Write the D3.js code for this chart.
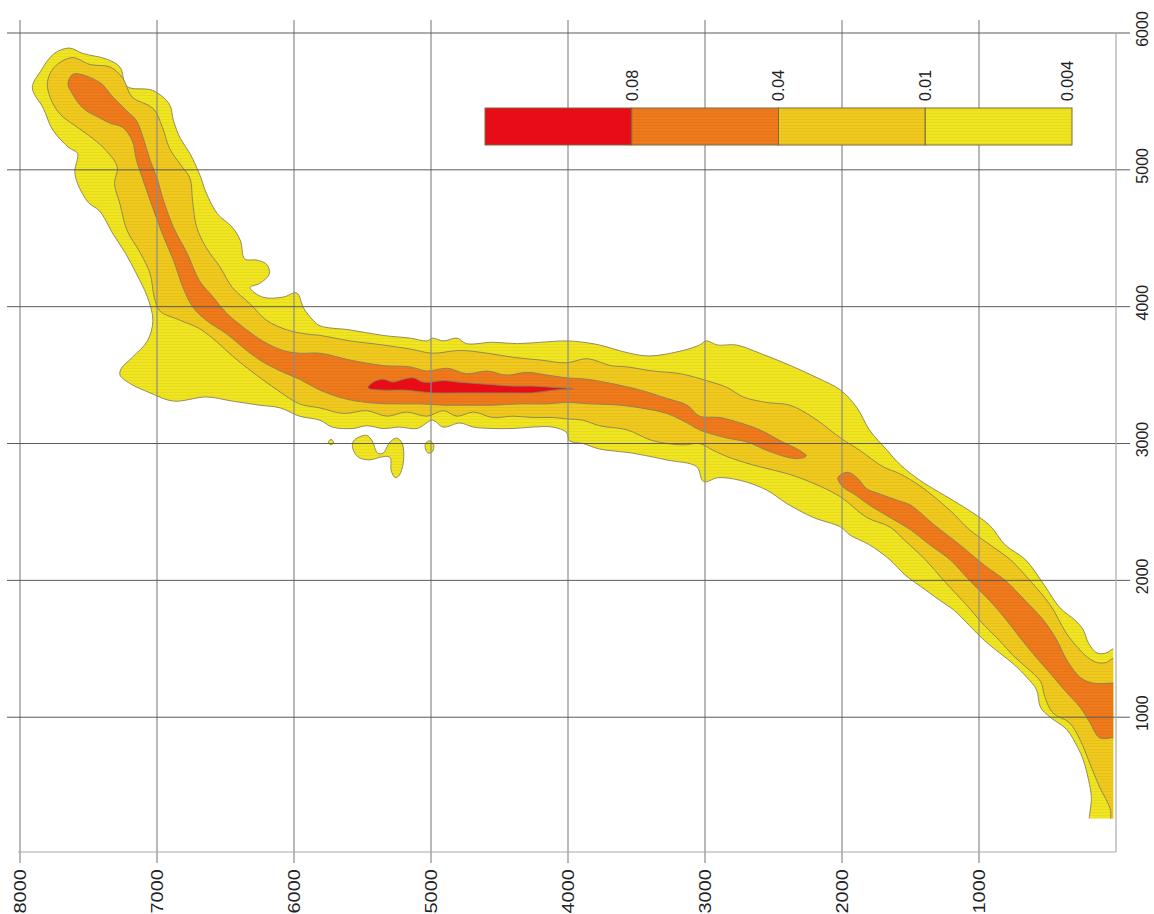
<!DOCTYPE html>
<html><head><meta charset="utf-8">
<script src="https://cdn.jsdelivr.net/npm/d3@7"></script>
<style>body{margin:0;background:#fff}svg{display:block}text{font-family:"Liberation Sans",Arial,sans-serif}</style>
</head><body><svg id="c" width="1154" height="914"></svg>
<script>
// ---- data ----
const xTicks = [8000,7000,6000,5000,4000,3000,2000,1000];
const yTicks = [6000,5000,4000,3000,2000,1000];
const legendLabels = ["0.08","0.04","0.01","0.004"];
const dataClip = {x0:20, x1:8000, y0:260, y1:6000};

// outer contour 0.004
const c004_main = [
[7640,5890],[7540,5850],[7370,5810],[7270,5750],[7220,5610],[7030,5580],[6910,5480],[6880,5360],[6830,5230],[6760,5120],
[6690,4970],[6640,4830],[6560,4680],[6450,4580],[6390,4480],[6360,4350],[6270,4340],[6200,4310],[6180,4240],[6250,4170],
[6320,4140],[6230,4070],[6080,4070],[5980,4100],[5930,3990],[5860,3900],[5810,3860],[5590,3830],[5350,3790],[5150,3770],
[5030,3750],[4990,3770],[4910,3750],[4810,3770],[4740,3730],[4550,3740],[4370,3730],[4200,3740],[4010,3750],[3890,3740],
[3770,3720],[3550,3660],[3400,3640],[3160,3680],[3040,3720],[2990,3750],[2910,3720],[2770,3720],[2600,3660],[2400,3580],
[2180,3480],[2010,3390],[1890,3260],[1800,3100],[1670,2950],[1580,2850],[1430,2730],[1250,2620],[1070,2510],[920,2400],
[810,2260],[660,2150],[520,1960],[410,1800],[300,1710],[240,1640],[200,1540],[140,1470],[70,1470],[20,1500],
[-60,1500],[-60,150],[180,150],
[180,420],[200,540],[240,690],[280,780],[360,910],[480,1000],[550,1070],[580,1200],[650,1290],[750,1390],
[850,1470],[960,1560],[1070,1670],[1180,1780],[1280,1850],[1390,1930],[1540,2040],[1650,2150],[1800,2260],[1940,2330],
[2010,2390],[2210,2460],[2400,2560],[2550,2660],[2740,2730],[2910,2750],[2990,2720],[3020,2730],[3060,2830],[3280,2880],
[3530,2930],[3770,2960],[3890,3000],[3990,3020],[4010,3080],[4110,3120],[4260,3120],[4400,3110],[4550,3110],[4690,3120],
[4790,3150],[4910,3120],[4990,3170],[5100,3110],[5230,3120],[5350,3110],[5470,3130],[5570,3110],[5720,3120],[5810,3170],
[5960,3200],[6100,3260],[6250,3280],[6450,3310],[6640,3340],[6880,3310],[7050,3370],[7200,3440],[7270,3500],[7260,3550],
[7180,3630],[7070,3750],[7030,3900],[7070,4070],[7150,4240],[7230,4390],[7320,4530],[7420,4700],[7500,4760],[7580,4900],
[7600,4990],[7580,5120],[7640,5160],[7760,5290],[7830,5450],[7910,5600],[7850,5720],[7750,5850]
];
const c004_blob = [
[5540,3040],[5470,3060],[5430,3020],[5390,2930],[5350,2930],[5300,3010],[5250,3040],[5210,3000],[5200,2880],[5230,2770],
[5260,2750],[5290,2800],[5300,2900],[5370,2900],[5450,2880],[5530,2900],[5570,2960],[5570,3010]
];
const c004_drop = [[5010,3020],[4980,2990],[4990,2940],[5020,2930],[5040,2960],[5040,3000]];
const c004_dot = [[5730,3030],[5750,3010],[5730,2990],[5710,3010]];

// contour 0.01
const c01 = [
[7620,5820],[7490,5770],[7340,5750],[7250,5670],[7180,5530],[7030,5450],[6960,5310],[6910,5160],[6830,5040],[6760,4940],
[6740,4770],[6710,4580],[6640,4430],[6540,4290],[6450,4140],[6320,4020],[6200,3900],[6050,3830],[5910,3800],[5810,3790],
[5590,3750],[5350,3720],[5150,3690],[4990,3660],[4790,3680],[4590,3660],[4400,3630],[4200,3610],[4010,3590],[3860,3620],
[3690,3570],[3570,3560],[3380,3530],[3180,3510],[2990,3460],[2840,3410],[2720,3340],[2550,3300],[2380,3280],[2210,3190],
[2010,3040],[1870,2950],[1700,2830],[1580,2780],[1430,2690],[1210,2510],[1070,2370],[920,2260],[770,2150],[630,2000],
[480,1820],[360,1610],[280,1510],[210,1440],[140,1400],[70,1400],[20,1430],
[-60,1430],[-60,150],[40,150],
[40,320],[120,490],[190,660],[260,830],[340,960],[460,1030],[520,1150],[550,1260],[650,1360],[750,1450],
[850,1560],[960,1670],[1100,1830],[1250,1990],[1390,2150],[1540,2290],[1650,2390],[1820,2460],[2010,2610],[2210,2710],
[2400,2780],[2600,2830],[2800,2890],[2940,2950],[3040,3000],[3160,2990],[3380,3020],[3570,3100],[3770,3130],[3890,3170],
[4010,3180],[4110,3190],[4260,3190],[4400,3200],[4550,3190],[4690,3230],[4810,3200],[4910,3240],[5030,3200],[5180,3230],
[5320,3200],[5470,3240],[5640,3220],[5810,3260],[5960,3290],[6120,3390],[6300,3520],[6450,3640],[6560,3740],[6690,3840],
[6830,3900],[6980,3970],[7020,4070],[7050,4240],[7120,4390],[7220,4560],[7270,4750],[7310,4900],[7290,5020],[7370,5140],
[7470,5230],[7580,5310],[7710,5410],[7780,5530],[7800,5640],[7750,5750]
];

// contour 0.04 (two parts)
const c04_a = [
[7610,5700],[7420,5640],[7320,5530],[7220,5430],[7150,5360],[7100,5230],[7050,5070],[7000,4940],[6960,4800],[6880,4580],
[6780,4390],[6690,4190],[6590,4070],[6490,3950],[6370,3850],[6230,3750],[6080,3680],[5960,3660],[5810,3660],[5590,3610],
[5350,3570],[5150,3560],[5030,3530],[4880,3550],[4740,3510],[4590,3530],[4450,3500],[4300,3520],[4150,3500],[4010,3480],
[3860,3470],[3690,3440],[3470,3390],[3280,3330],[3130,3280],[3040,3200],[2890,3190],[2740,3150],[2600,3100],[2450,3020],
[2310,2950],[2260,2910],
[2310,2890],[2400,2900],[2550,2950],[2690,3010],[2840,3040],[3040,3100],[3130,3150],[3280,3220],[3470,3260],[3620,3280],
[3840,3290],[4010,3300],[4150,3290],[4350,3290],[4550,3280],[4740,3280],[4910,3280],[5080,3290],[5280,3290],[5470,3300],
[5640,3330],[5810,3390],[5960,3470],[6100,3530],[6250,3610],[6370,3700],[6490,3800],[6640,3900],[6740,4000],[6810,4140],
[6880,4340],[6960,4530],[7030,4720],[7100,4920],[7150,5070],[7180,5210],[7250,5310],[7340,5340],[7420,5380],[7540,5450],
[7620,5560],[7650,5630]
];
const c04_b = [
[2030,2750],[1960,2790],[1890,2750],[1820,2670],[1720,2630],[1580,2580],[1500,2550],[1320,2400],[1140,2260],[960,2110],
[810,2000],[660,1850],[530,1710],[430,1560],[360,1420],[260,1290],[170,1250],[20,1250],
[-60,1250],[-60,850],
[20,850],[120,850],[190,960],[260,1070],[360,1180],[480,1320],[610,1470],[700,1580],[800,1710],[920,1850],
[1070,2000],[1210,2150],[1360,2260],[1500,2370],[1650,2460],[1800,2550],[1910,2630],[1990,2680]
];

// contour 0.08
const c08 = [
[5460,3410],[5420,3450],[5350,3470],[5280,3450],[5200,3470],[5130,3480],[5060,3450],[4990,3450],[4910,3460],[4810,3450],
[4690,3440],[4550,3430],[4400,3420],[4260,3420],[4110,3410],[3960,3400],
[4110,3390],[4260,3370],[4400,3370],[4590,3370],[4790,3370],[4990,3370],[5180,3390],[5350,3390],[5450,3400]
];

// ---- drawing ----
const svg = d3.select("#c");
const x = d3.scaleLinear().domain([8000, 0]).range([20, 1116]);
const y = d3.scaleLinear().domain([15, 6000]).range([852, 33]);

const defs = svg.append("defs");
defs.append("clipPath").attr("id","dclip").append("rect")
  .attr("x", x(dataClip.x1)).attr("y", y(dataClip.y1))
  .attr("width", x(dataClip.x0) - x(dataClip.x1))
  .attr("height", y(dataClip.y0) - y(dataClip.y1));

// fine stipple texture
function pat(id, base, dark){
  const p = defs.append("pattern").attr("id", id).attr("patternUnits","userSpaceOnUse")
    .attr("width", 3).attr("height", 3);
  p.append("rect").attr("width",3).attr("height",3).attr("fill", base);
  p.append("rect").attr("x",0).attr("y",2).attr("width",3).attr("height",1).attr("fill", dark).attr("opacity",0.35);
  return `url(#${id})`;
}
const colYellow = pat("pY", "#efe520", "#d9c81a");
const colDYellow = pat("pD", "#f0c91f", "#d9ae18");
const colOrange = pat("pO", "#ee7a1b", "#d96a15");
const colRed = "#e80c16";

const line = d3.line().x(d => x(d[0])).y(d => y(d[1])).curve(d3.curveCatmullRomClosed.alpha(0.5));
const g = svg.append("g").attr("clip-path","url(#dclip)");
const stroke = "#8a8058";

function poly(data, fill){
  g.append("path").attr("d", line(data)).attr("fill", fill)
   .attr("stroke", stroke).attr("stroke-width", 0.9).attr("stroke-linejoin","round");
}
poly(c004_main, colYellow);
poly(c004_blob, colYellow);
poly(c004_drop, colYellow);
poly(c004_dot, colYellow);
poly(c01, colDYellow);
poly(c04_a, colOrange);
poly(c04_b, colOrange);
poly(c08, colRed);

// grid
const grid = svg.append("g");
grid.selectAll("line.v").data(xTicks).join("line")
  .attr("x1", d => x(d)).attr("x2", d => x(d)).attr("y1", 20).attr("y2", 863)
  .attr("stroke", "#8a8a8a").attr("stroke-width", 1.2);
grid.selectAll("line.h").data(yTicks).join("line")
  .attr("y1", d => y(d)).attr("y2", d => y(d)).attr("x1", 7).attr("x2", 1130)
  .attr("stroke", "#5a5a5a").attr("stroke-width", 1);
// frame
grid.append("line").attr("x1", 18).attr("x2", x(0)).attr("y1", y(15)).attr("y2", y(15))
  .attr("stroke", "#aaaaaa").attr("stroke-width", 1.2);
grid.append("line").attr("x1", x(0)).attr("x2", x(0)).attr("y1", y(6000)).attr("y2", y(15))
  .attr("stroke", "#aaaaaa").attr("stroke-width", 1.2);

// axis labels
svg.selectAll("text.xl").data(xTicks).join("text")
  .attr("transform", d => `translate(${x(d)},869) rotate(-90) scale(1.25,1)`)
  .attr("text-anchor","end").attr("dy","0.36em")
  .attr("font-size", 16).attr("fill", "#222").text(d => d);
svg.selectAll("text.yl").data(yTicks).join("text")
  .attr("transform", d => `translate(1148,${y(d) - 4}) rotate(-90)`)
  .attr("text-anchor","middle")
  .attr("font-size", 16).attr("fill", "#222").text(d => d);

// legend
const lg = svg.append("g");
const lb = d3.scaleBand().domain(d3.range(legendLabels.length)).range([485, 1072]).paddingInner(0);
const legFill = [colRed, colOrange, colDYellow, colYellow];
lg.selectAll("rect").data(legendLabels).join("rect")
  .attr("x", (d,i) => lb(i)).attr("y", 108).attr("width", lb.bandwidth()).attr("height", 37)
  .attr("fill", (d,i) => legFill[i]).attr("stroke", "#7a6a40").attr("stroke-width", 1);
lg.selectAll("text").data(legendLabels).join("text")
  .attr("transform", (d,i) => `translate(${lb(i) + lb.bandwidth() - (i === 3 ? 5 : 0)},101) rotate(-90)`)
  .attr("text-anchor","start").attr("dy","0.36em")
  .attr("font-size", 16).attr("fill", "#222").text(d => d);
</script>
</body></html>
